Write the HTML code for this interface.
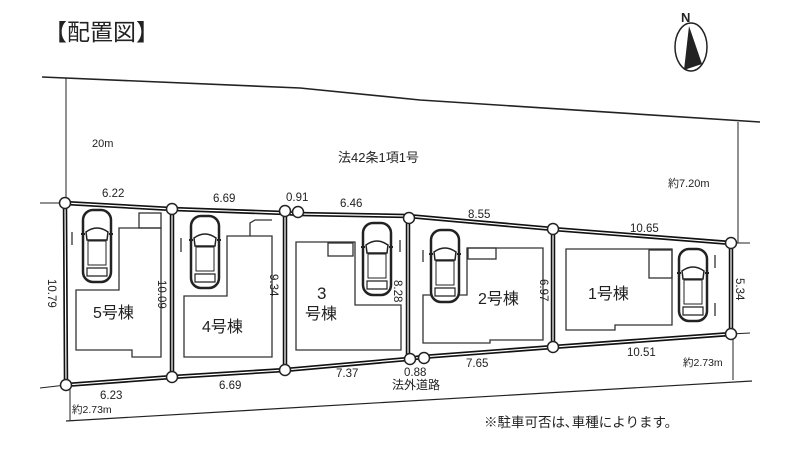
<!DOCTYPE html>
<html><head><meta charset="utf-8"><style>
html,body{margin:0;padding:0;background:#fff}
svg{display:block}
text{font-family:"Liberation Sans","Noto Sans CJK JP",sans-serif;fill:#222}
</style></head><body>
<svg width="800" height="454" viewBox="0 0 800 454" xmlns="http://www.w3.org/2000/svg">
<defs>
<g id="car">
<rect x="0" y="0" width="28" height="72" rx="10" fill="#fff" stroke="#222" stroke-width="2.5"/>
<path d="M3,22 Q14,14 25,22 L24,30 L4,30 Z" fill="#fff" stroke="#222" stroke-width="1.5"/>
<rect x="5" y="31" width="18" height="24" fill="none" stroke="#222" stroke-width="1"/>
<path d="M4,58 L24,58 L24,66 L4,66 Z" fill="none" stroke="#222" stroke-width="1.2"/>
<line x1="-2" y1="24" x2="2" y2="24" stroke="#222" stroke-width="2"/>
<line x1="26" y1="24" x2="30" y2="24" stroke="#222" stroke-width="2"/>
</g>
</defs>
<text x="44" y="40" font-size="23" fill="#111">【配置図】</text>
<!-- compass -->
<text x="681" y="22" font-size="13" font-weight="bold">N</text>
<ellipse cx="691" cy="47" rx="16" ry="24" fill="none" stroke="#222" stroke-width="1.5"/>
<polygon points="689,26 684,70 702,64" fill="#222"/>
<!-- top road -->
<polyline points="42,77 300,88 420,100 760,122" fill="none" stroke="#222" stroke-width="1.6"/>
<line x1="66" y1="78" x2="66" y2="200" stroke="#222" stroke-width="1"/>
<line x1="738" y1="122" x2="738" y2="243" stroke="#222" stroke-width="1"/>
<text x="92" y="147" font-size="11">20m</text>
<text x="338" y="162" font-size="13">法42条1項1号</text>
<text x="668" y="187" font-size="11">約7.20m</text>
<!-- lower road -->
<line x1="40" y1="388" x2="66" y2="385" stroke="#222" stroke-width="1"/>
<line x1="731" y1="334" x2="750" y2="333" stroke="#222" stroke-width="1"/>
<line x1="40" y1="203" x2="66" y2="203" stroke="#222" stroke-width="1"/>
<line x1="731" y1="243" x2="750" y2="243" stroke="#222" stroke-width="1"/>
<line x1="66" y1="421" x2="752" y2="381" stroke="#222" stroke-width="1.2"/>
<line x1="70" y1="386" x2="70" y2="421" stroke="#222" stroke-width="1"/>
<line x1="733" y1="335" x2="733" y2="380" stroke="#222" stroke-width="1"/>
<!-- buildings -->
<g fill="none" stroke="#333" stroke-width="1.3">
<polygon points="119,228 161,228 161,357 132,357 132,350 76,350 76,290 119,290"/>
<rect x="139" y="213" width="22" height="15"/>
<polygon points="227,236 272,236 272,357 184,357 184,296 227,296"/>
<path d="M250,236 L250,223 L255,220 L272,220"/>
<polygon points="296,242 355,242 355,305 401,305 401,350 296,350"/>
<rect x="328" y="243" width="25" height="13"/>
<polygon points="467,248 543,248 543,340 490,340 490,343 423,343 423,295 467,295"/>
<rect x="468" y="248" width="28" height="11"/>
<polygon points="566,249 672,249 672,325 615,325 615,330 566,330"/>
<rect x="649" y="250" width="23" height="28"/>
<line x1="72" y1="232" x2="72" y2="245"/><line x1="181" y1="238" x2="181" y2="252"/>
<line x1="400" y1="240" x2="400" y2="252"/><line x1="423" y1="250" x2="423" y2="262"/>
<line x1="715" y1="255" x2="715" y2="268"/><line x1="715" y1="303" x2="715" y2="316"/>
</g>
<!-- cars -->
<use href="#car" x="83" y="210"/>
<use href="#car" x="191" y="216"/>
<use href="#car" x="363" y="223"/>
<use href="#car" x="431" y="230"/>
<use href="#car" x="679" y="249"/>
<!-- lot boundaries -->
<g fill="none" stroke="#111" stroke-width="4.5">
<polyline points="65,203 172,209 285,213 298,214 408,216 553,229 731,243 731,334 553,347 422,357 408,359 285,370 172,377 66,385 65,203"/>
<line x1="172" y1="209" x2="172" y2="377"/>
<line x1="285" y1="213" x2="285" y2="370"/>
<line x1="408" y1="216" x2="408" y2="359"/>
<line x1="553" y1="229" x2="553" y2="347"/>
</g>
<g fill="none" stroke="#fff" stroke-width="1.2">
<polyline points="65,203 172,209 285,213 298,214 408,216 553,229 731,243 731,334 553,347 422,357 408,359 285,370 172,377 66,385 65,203"/>
<line x1="172" y1="209" x2="172" y2="377"/>
<line x1="285" y1="213" x2="285" y2="370"/>
<line x1="408" y1="216" x2="408" y2="359"/>
<line x1="553" y1="229" x2="553" y2="347"/>
</g>
<g fill="#fff" stroke="#222" stroke-width="1.5">
<circle cx="65" cy="203" r="5.5"/><circle cx="172" cy="209" r="5.5"/><circle cx="285" cy="211" r="5.5"/>
<circle cx="298" cy="212" r="5.5"/><circle cx="409" cy="218" r="5.5"/><circle cx="553" cy="229" r="5.5"/>
<circle cx="731" cy="243" r="5.5"/><circle cx="731" cy="334" r="5.5"/><circle cx="553" cy="347" r="5.5"/>
<circle cx="424" cy="358" r="5.5"/><circle cx="410" cy="359" r="5.5"/><circle cx="285" cy="370" r="5.5"/>
<circle cx="172" cy="377" r="5.5"/><circle cx="66" cy="385" r="5.5"/>
</g>
<!-- dimensions -->
<g font-size="11.5">
<text x="102" y="197">6.22</text><text x="213" y="202">6.69</text><text x="286" y="201">0.91</text>
<text x="340" y="207">6.46</text><text x="468" y="218">8.55</text><text x="630" y="232">10.65</text>
<text x="100" y="399">6.23</text><text x="219" y="389">6.69</text><text x="336" y="377">7.37</text>
<text x="404" y="376">0.88</text><text x="466" y="367">7.65</text><text x="627" y="356">10.51</text>
<text x="72" y="413" font-size="10.5">約2.73m</text><text x="683" y="366" font-size="10.5">約2.73m</text>
<text x="392" y="389" font-size="12">法外道路</text>
<text x="52" y="295" transform="rotate(90 52 295) translate(-16 4)">10.79</text>
<text x="162" y="296" transform="rotate(90 162 296) translate(-16 4)">10.09</text>
<text x="274" y="286" transform="rotate(90 274 286) translate(-12 4)">9.34</text>
<text x="398" y="292" transform="rotate(90 398 292) translate(-12 4)">8.28</text>
<text x="544" y="291" transform="rotate(90 544 291) translate(-12 4)">6.97</text>
<text x="740" y="290" transform="rotate(90 740 290) translate(-12 4)">5.34</text>
</g>
<g font-size="16">
<text x="93" y="318">5号棟</text><text x="202" y="332">4号棟</text>
<text x="317" y="299" font-size="17">3</text><text x="305" y="319">号棟</text>
<text x="478" y="304">2号棟</text><text x="588" y="299">1号棟</text>
</g>
<text x="484" y="427" font-size="13.5">※駐車可否は､車種によります。</text>
</svg>
</body></html>
